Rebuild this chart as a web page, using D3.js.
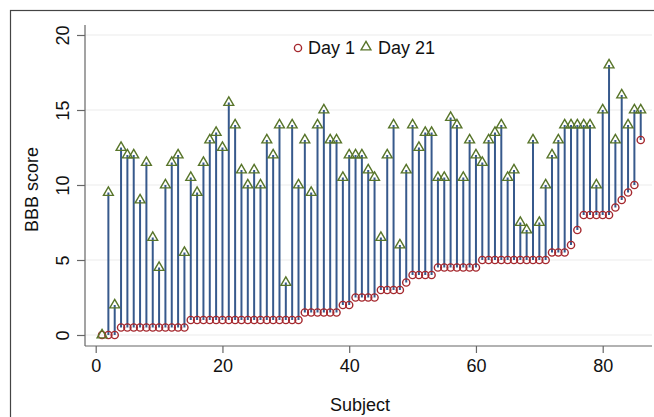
<!DOCTYPE html>
<html lang="en">
  <head>
    <meta charset="UTF-8" />
    <title>BBB score by subject</title>
    <script src="https://d3js.org/d3.v7.min.js"></script>
    <style>
      body { margin: 0; background: #fff; }
      text { font-family: "Liberation Sans", Arial, sans-serif; fill: #111; }
    </style>
  </head>
  <body>
    <svg width="654" height="417"></svg>
    <script>
      // BBB scores per subject (subjects 1..86)
      const day1 = [
        0, 0, 0, 0.5, 0.5, 0.5, 0.5, 0.5, 0.5, 0.5,
        0.5, 0.5, 0.5, 0.5, 1, 1, 1, 1, 1, 1,
        1, 1, 1, 1, 1, 1, 1, 1, 1, 1,
        1, 1, 1.5, 1.5, 1.5, 1.5, 1.5, 1.5, 2, 2,
        2.5, 2.5, 2.5, 2.5, 3, 3, 3, 3, 3.5, 4,
        4, 4, 4, 4.5, 4.5, 4.5, 4.5, 4.5, 4.5, 4.5,
        5, 5, 5, 5, 5, 5, 5, 5, 5, 5,
        5, 5.5, 5.5, 5.5, 6, 7, 8, 8, 8, 8,
        8, 8.5, 9, 9.5, 10, 13,
      ];
      const day21 = [
        0, 9.5, 2, 12.5, 12, 12, 9, 11.5, 6.5, 4.5,
        10, 11.5, 12, 5.5, 10.5, 9.5, 11.5, 13, 13.5, 12.5,
        15.5, 14, 11, 10, 11, 10, 13, 12, 14, 3.5,
        14, 10, 13, 9.5, 14, 15, 13, 13, 10.5, 12,
        12, 12, 11, 10.5, 6.5, 12, 14, 6, 11, 14,
        12.5, 13.5, 13.5, 10.5, 10.5, 14.5, 14, 10.5, 13, 12,
        11.5, 13, 13.5, 14, 10.5, 11, 7.5, 7, 13, 7.5,
        10, 12, 13, 14, 14, 14, 14, 14, 10, 15,
        18, 13, 16, 14, 15, 15,
      ];
      const xTicks = [0, 20, 40, 60, 80];
      const yTicks = [0, 5, 10, 15, 20];

      const data = day1.map((v, i) => ({ subject: i + 1, d1: v, d21: day21[i] }));

      const svg = d3.select("svg");
      const plotLeft = 85, plotRight = 652, plotTop = 25, plotBottom = 346;
      const fontSize = 18;

      const x = d3.scaleLinear().domain([0, 80]).range([95.7, 602.7]);
      const y = d3.scaleLinear().domain([0, 20]).range([335, 35]);

      // outer frame
      svg.append("rect")
        .attr("x", 10.5).attr("y", 10.5)
        .attr("width", 700).attr("height", 500)
        .attr("fill", "none").attr("stroke", "#444").attr("stroke-width", 1.2);

      // gridlines
      svg.append("g")
        .selectAll("line")
        .data(yTicks)
        .enter()
        .append("line")
        .attr("x1", plotLeft).attr("x2", plotRight)
        .attr("y1", (d) => y(d)).attr("y2", (d) => y(d))
        .style("stroke", "#ececec")
        .style("stroke-width", 1.2);

      // y axis
      const yAxis = svg.append("g")
        .attr("transform", `translate(${plotLeft},0)`)
        .call(d3.axisLeft(y).tickValues(yTicks).tickSize(8));
      yAxis.select(".domain").remove();
      yAxis.append("line")
        .attr("y1", plotTop).attr("y2", plotBottom)
        .style("stroke", "#666").style("stroke-width", 1.2);
      yAxis.selectAll(".tick line").style("stroke", "#666").style("stroke-width", 1.2);
      yAxis.selectAll(".tick text")
        .attr("font-size", fontSize)
        .attr("fill", "#111")
        .attr("text-anchor", "middle")
        .attr("x", 0)
        .attr("y", 0)
        .attr("dy", "0.35em")
        .attr("transform", "translate(-22,0) rotate(-90)");

      // x axis
      const xAxis = svg.append("g")
        .attr("transform", `translate(0,${plotBottom})`)
        .call(d3.axisBottom(x).tickValues(xTicks).tickSize(7).tickPadding(6));
      xAxis.select(".domain").remove();
      xAxis.append("line")
        .attr("x1", plotLeft).attr("x2", plotRight)
        .style("stroke", "#666").style("stroke-width", 1.2);
      xAxis.selectAll(".tick line").style("stroke", "#666").style("stroke-width", 1.2);
      xAxis.selectAll(".tick text").attr("font-size", fontSize).attr("fill", "#111");

      // axis titles
      svg.append("text")
        .attr("x", 360).attr("y", 411)
        .attr("text-anchor", "middle")
        .attr("font-size", fontSize)
        .text("Subject");
      svg.append("text")
        .attr("transform", `translate(38,${y(9.7)}) rotate(-90)`)
        .attr("text-anchor", "middle")
        .attr("font-size", fontSize)
        .text("BBB score");

      // stems
      svg.append("g")
        .selectAll("line")
        .data(data)
        .enter()
        .append("line")
        .attr("x1", (d) => x(d.subject)).attr("x2", (d) => x(d.subject))
        .attr("y1", (d) => y(d.d1)).attr("y2", (d) => y(d.d21))
        .style("stroke", "#37598c")
        .style("stroke-width", 2);

      // day 1 markers
      svg.append("g")
        .selectAll("circle")
        .data(data)
        .enter()
        .append("circle")
        .attr("cx", (d) => x(d.subject))
        .attr("cy", (d) => y(d.d1))
        .attr("r", 3.6)
        .style("fill", "none")
        .style("stroke", "#a5282e")
        .style("stroke-width", 1.4);

      // day 21 markers
      const tri = d3.symbol().type(d3.symbolTriangle).size(42);
      svg.append("g")
        .selectAll("path")
        .data(data)
        .enter()
        .append("path")
        .attr("d", tri)
        .attr("transform", (d) => `translate(${x(d.subject)},${y(d.d21)})`)
        .style("fill", "none")
        .style("stroke", "#58752a")
        .style("stroke-width", 1.4);

      // legend
      const lg = svg.append("g");
      lg.append("circle").attr("cx", 298).attr("cy", 48).attr("r", 3.6)
        .style("fill", "none").style("stroke", "#a5282e").style("stroke-width", 1.4);
      lg.append("text").attr("x", 308).attr("y", 54).attr("font-size", fontSize).text("Day 1");
      lg.append("path").attr("d", tri).attr("transform", "translate(366,47)")
        .style("fill", "none").style("stroke", "#58752a").style("stroke-width", 1.4);
      lg.append("text").attr("x", 378).attr("y", 54).attr("font-size", fontSize).text("Day 21");
    </script>
  </body>
</html>
